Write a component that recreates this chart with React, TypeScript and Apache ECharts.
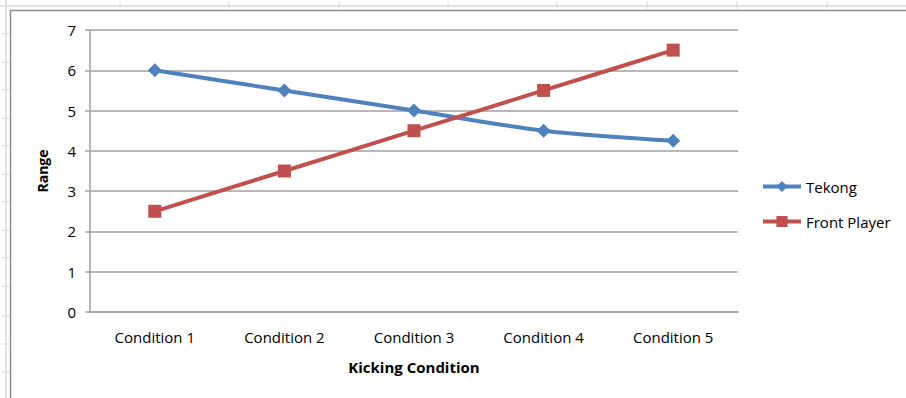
import React, { useEffect, useRef } from "react";
import * as echarts from "echarts";

const categories = ["Condition 1", "Condition 2", "Condition 3", "Condition 4", "Condition 5"];
const tekong = [6, 5.5, 5, 4.5, 4.25];
const frontPlayer = [2.5, 3.5, 4.5, 5.5, 6.5];
const columnMarks = [120, 229, 339, 448, 557, 647, 737, 827];
const rowMarks = [34, 62, 90, 118, 146, 174, 202, 230, 258, 286, 316, 344, 372];

const FONT = "'Open Sans', 'Noto Sans', sans-serif";

export default function App() {
  const ref = useRef<HTMLDivElement>(null);

  useEffect(() => {
    if (!ref.current) return;
    const chart = echarts.init(ref.current, null, { renderer: "svg" });

    // sheet frame around the embedded chart
    const sheet: any[] = [
      { type: "line", shape: { x1: 0, y1: 6, x2: 906, y2: 6 }, style: { stroke: "#e2e2e2", lineWidth: 2 }, silent: true },
      { type: "line", shape: { x1: 6, y1: 0, x2: 6, y2: 398 }, style: { stroke: "#e2e2e2", lineWidth: 2 }, silent: true },
      ...columnMarks.map((x) => ({
        type: "line",
        shape: { x1: x, y1: 2, x2: x, y2: 9 },
        style: { stroke: "#d4d4d4", lineWidth: 1 },
        silent: true,
      })),
      ...rowMarks.map((y) => ({
        type: "line",
        shape: { x1: 2, y1: y, x2: 9, y2: y },
        style: { stroke: "#d4d4d4", lineWidth: 1 },
        silent: true,
      })),
      { type: "line", shape: { x1: 10, y1: 10.5, x2: 906, y2: 10.5 }, style: { stroke: "#8c8c8c", lineWidth: 1.5 }, silent: true },
      { type: "line", shape: { x1: 10.5, y1: 10, x2: 10.5, y2: 398 }, style: { stroke: "#8c8c8c", lineWidth: 1.5 }, silent: true },
    ];

    chart.setOption({
      animation: false,
      backgroundColor: "#ffffff",
      graphic: sheet,
      grid: { left: 90, right: 168, top: 30, bottom: 86, containLabel: false },
      legend: {
        orient: "vertical",
        left: 756,
        top: 174,
        itemWidth: 38,
        itemHeight: 14,
        itemGap: 20,
        lineStyle: { width: 4 },
        textStyle: { fontFamily: FONT, fontSize: 15, color: "#000" },
        data: ["Tekong", "Front Player"],
      },
      xAxis: {
        type: "category",
        data: categories,
        boundaryGap: true,
        name: "Kicking Condition",
        nameLocation: "middle",
        nameGap: 47,
        nameTextStyle: { fontFamily: FONT, fontSize: 15, fontWeight: "bold", color: "#000" },
        axisLine: { lineStyle: { color: "#a0a0a0", width: 1.5 } },
        axisTick: { show: false },
        axisLabel: { fontFamily: FONT, fontSize: 15, color: "#000", margin: 17 },
      },
      yAxis: {
        type: "value",
        min: 0,
        max: 7,
        interval: 1,
        name: "Range",
        nameLocation: "middle",
        nameGap: 41,
        nameRotate: 90,
        nameTextStyle: { fontFamily: FONT, fontSize: 14, fontWeight: "bold", color: "#000" },
        axisLine: { show: true, lineStyle: { color: "#a0a0a0", width: 1.5 } },
        axisTick: { show: true, length: 5, lineStyle: { color: "#a0a0a0", width: 1.5 } },
        axisLabel: { fontFamily: FONT, fontSize: 15, color: "#000", margin: 14 },
        splitLine: { lineStyle: { color: "#a0a0a0", width: 1.5 } },
      },
      series: [
        {
          name: "Tekong",
          type: "line",
          data: tekong,
          smooth: 0.3,
          symbol: "diamond",
          symbolSize: 14,
          itemStyle: { color: "#4f81bd" },
          lineStyle: { color: "#4f81bd", width: 4 },
        },
        {
          name: "Front Player",
          type: "line",
          data: frontPlayer,
          smooth: 0.3,
          symbol: "rect",
          symbolSize: 13,
          itemStyle: { color: "#c0504d" },
          lineStyle: { color: "#c0504d", width: 4 },
        },
      ],
    });

    return () => chart.dispose();
  }, []);

  return (
    <div
      ref={ref}
      style={{ position: "fixed", left: 0, top: 0, width: 906, height: 398 }}
    />
  );
}
